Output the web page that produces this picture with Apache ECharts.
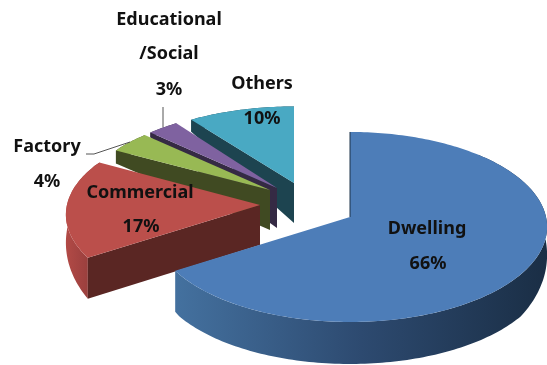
<!DOCTYPE html>
<html>
<head>
<meta charset="utf-8">
<style>html,body{margin:0;padding:0;background:#fff}#chart{width:547px;height:365px}</style>
<script src="https://cdn.jsdelivr.net/npm/echarts@6/dist/echarts.min.js"></script>
</head>
<body>
<div id="chart"></div>
<script>
// Share of buildings by use, in percent, clockwise from twelve o'clock.
const categories = ['Dwelling', 'Commercial', 'Factory', 'Educational/Social', 'Others'];
const shares = [66, 17, 4, 3, 10];

// Face colours for each slice: top, cut wall, and rim wall stops (left to right).
const topColors = ['#4d7db8', '#bb4f4b', '#98b954', '#7f62a0', '#49a9c3'];
const wallColors = ['#1d3249', '#5a2623', '#404a22', '#352a44', '#1d4450'];
const rimColors = [
  ['#44719f', '#2d4a70', '#1a2e45'],
  ['#b24a46', '#a04240', '#8e3a37'],
  ['#404a22', '#404a22', '#404a22'],
  ['#352a44', '#352a44', '#352a44'],
  ['#1d4450', '#1d4450', '#1d4450']
];

// Pulled-out position of each slice's tip, its perspective shrink,
// and the wall height left at the far end of the slice.
const tipX = [350, 260, 270, 277, 294];
const tipY = [217, 205, 190, 188, 183];
const shrinkX = [0.995, 0.98, 0.94, 0.95, 0.97];
const shrinkY = [1, 0.98, 0.91, 0.92, 0.90];
const farDepth = [8, 8, 13, 5, 12];

const RX = 197, RY = 95, PERSPECTIVE = 0.105, TIP_DEPTH = 40;
const total = shares.reduce((a, b) => a + b, 0);
const startAngles = [];
shares.reduce((sum, v, i) => {
  startAngles[i] = sum / total * Math.PI * 2;
  return sum + v;
}, 0);

function rimPoint(i, a) {
  const k = 1 - PERSPECTIVE * Math.cos(a);
  return [tipX[i] + RX * shrinkX[i] * k * Math.sin(a), tipY[i] - RY * shrinkY[i] * k * Math.cos(a)];
}
function rimDepth(i, a) {
  return Math.max(farDepth[i], Math.min(42, 25 - 30 * Math.cos(a)));
}
function rimArc(i, a0, a1, withDepth) {
  const pts = [];
  const n = Math.max(6, Math.ceil((a1 - a0) / 0.02));
  for (let k = 0; k <= n; k++) {
    const a = a0 + (a1 - a0) * k / n;
    const p = rimPoint(i, a);
    pts.push(withDepth ? [p[0], p[1] + rimDepth(i, a)] : p);
  }
  return pts;
}

function drawSlice(params, api) {
  const i = api.value(0);
  const a0 = startAngles[i];
  const a1 = a0 + api.value(1) / total * Math.PI * 2;
  const tip = [tipX[i], tipY[i]];
  const children = [];

  // Curved outer wall, only the part that can show below the top face.
  const wallStart = Math.max(a0, i === 0 ? Math.PI / 4 : a0);
  const top = rimArc(i, wallStart, a1, false);
  const bottom = rimArc(i, wallStart, a1, true).reverse();
  const stops = rimColors[i];
  children.push({
    type: 'polygon',
    shape: { points: top.concat(bottom) },
    style: {
      fill: new echarts.graphic.LinearGradient(i === 0 ? 1 : 0, 0, i === 0 ? 0 : 1, 0, [
        { offset: 0, color: i === 0 ? stops[2] : stops[0] },
        { offset: 0.5, color: stops[1] },
        { offset: 1, color: i === 0 ? stops[0] : stops[2] }
      ])
    }
  });

  // Flat cut wall along the slice's lower edge.
  if (i > 0) {
    const r = rimPoint(i, a0);
    children.push({
      type: 'polygon',
      shape: { points: [tip, r, [r[0], r[1] + rimDepth(i, a0)], [tip[0], tip[1] + TIP_DEPTH]] },
      style: { fill: wallColors[i] }
    });
  }

  // Top face.
  children.push({
    type: 'polygon',
    shape: { points: [tip].concat(rimArc(i, a0, a1, false)) },
    style: { fill: topColors[i] }
  });

  // Thin visible sliver of the big slice's back wall.
  if (i === 0) {
    children.push({
      type: 'polyline',
      shape: { points: [rimPoint(0, 0), tip] },
      style: { stroke: wallColors[0], lineWidth: 1, fill: null }
    });
  }
  return { type: 'group', children };
}

// Back slices are painted first so nearer ones overlap them.
const paintOrder = [4, 3, 2, 1, 0];
const sliceData = paintOrder.map(i => [i, shares[i]]);

const FONT = '"Noto Sans", sans-serif';
function caption(text, x, y) {
  return {
    type: 'text', x, y, z: 10,
    style: {
      text, fill: '#111111', font: 'bold 18px ' + FONT,
      textAlign: 'center', textVerticalAlign: 'middle'
    }
  };
}
const pct = shares.map(v => v + '%');

const chart = echarts.init(document.getElementById('chart'), null, { renderer: 'canvas' });
chart.setOption({
  animation: false,
  backgroundColor: '#ffffff',
  series: [{
    type: 'custom',
    coordinateSystem: 'none',
    renderItem: drawSlice,
    data: sliceData,
    encode: { value: [1] },
    silent: true
  }],
  graphic: [
    caption(categories[0], 427, 229),
    caption(pct[0], 428, 264),
    caption(categories[1], 140, 193),
    caption(pct[1], 141, 227),
    caption(categories[2], 47, 147),
    caption(pct[2], 47, 182),
    caption('Educational', 169, 20),
    caption('/Social', 169, 54),
    caption(pct[3], 169, 90),
    caption(categories[4], 262, 84),
    caption(pct[4], 262, 119),
    {
      type: 'polyline', z: 9,
      shape: { points: [[86, 154], [94, 154], [130, 142]] },
      style: { stroke: '#555555', lineWidth: 1, fill: null }
    },
    {
      type: 'polyline', z: 9,
      shape: { points: [[163, 107], [163, 127]] },
      style: { stroke: '#555555', lineWidth: 1, fill: null }
    }
  ]
});
</script>
</body>
</html>
